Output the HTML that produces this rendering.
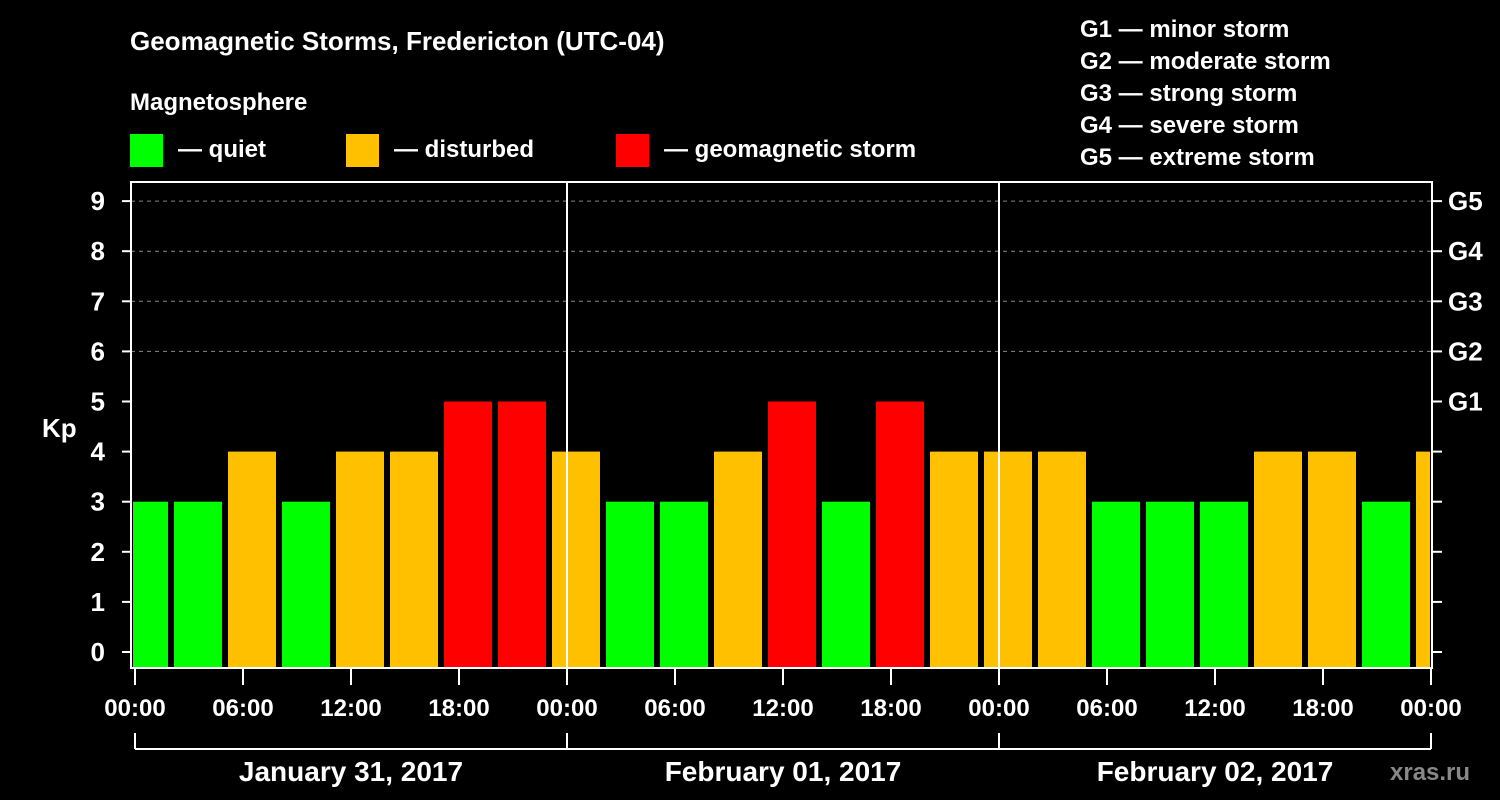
<!DOCTYPE html>
<html><head><meta charset="utf-8"><style>
html,body{margin:0;padding:0;background:#000;}
svg{display:block;font-family:"Liberation Sans",sans-serif;font-weight:bold;}
</style></head><body>
<svg id="c" width="1500" height="800">
<rect width="1500" height="800" fill="#000"/>
<text x="130" y="50" fill="#fff" font-size="26">Geomagnetic Storms, Fredericton (UTC-04)</text>
<text x="130" y="110" fill="#fff" font-size="24">Magnetosphere</text>
<g><rect x="130" y="134" width="33" height="33" fill="#00ff00"/><text x="178" y="157" fill="#fff" font-size="24">— quiet</text></g>
<g><rect x="346" y="134" width="33" height="33" fill="#ffc000"/><text x="394" y="157" fill="#fff" font-size="24">— disturbed</text></g>
<g><rect x="616" y="134" width="33" height="33" fill="#ff0000"/><text x="664" y="157" fill="#fff" font-size="24">— geomagnetic storm</text></g>
<g fill="#fff" font-size="24">
<text x="1080" y="37">G1 — minor storm</text>
<text x="1080" y="69">G2 — moderate storm</text>
<text x="1080" y="101">G3 — strong storm</text>
<text x="1080" y="133">G4 — severe storm</text>
<text x="1080" y="165">G5 — extreme storm</text>
</g>
<text x="42" y="437" fill="#fff" font-size="26">Kp</text>
<text x="1390" y="780" fill="#888" font-size="24">xras.ru</text>
<g id="plot"></g>
</svg>
<script>
const kpValues=[3,3,4,3,4,4,5,5,4,3,3,4,5,3,5,4,4,4,3,3,3,4,4,3,4];
const yTicks=[0,1,2,3,4,5,6,7,8,9];
const gLabels=["G1","G2","G3","G4","G5"];
const xTickLabels=["00:00","06:00","12:00","18:00","00:00","06:00","12:00","18:00","00:00","06:00","12:00","18:00","00:00"];
const dayLabels=["January 31, 2017","February 01, 2017","February 02, 2017"];
const firstIntervalHour=-1;
const NS="http://www.w3.org/2000/svg";
const L=131,R=1432,T=182,B=668;
const x0=135,pxPerHour=18;
const yS=v=>652-v*50.1;
const xS=h=>x0+h*pxPerHour;
const g=document.getElementById('plot');
function mk(tag,attrs,parent){const e=document.createElementNS(NS,tag);for(const k in attrs)e.setAttribute(k,attrs[k]);(parent||g).appendChild(e);return e;}
// grid
for(let v=6;v<=9;v++){const e=mk('line',{x1:L,x2:R,y1:yS(v),y2:yS(v),stroke:'#888','stroke-width':1,'stroke-dasharray':'4,4'});

}
// bars
const cp=mk('clipPath',{id:'cp'});mk('rect',{x:L+2,y:T,width:R-L-4,height:B-T},cp);
kpValues.forEach((v,i)=>{const h=firstIntervalHour+i*3;const xa=xS(h)+3,xb=xS(h+3)-3;
const col=v>=5?'#ff0000':(v>=4?'#ffc000':'#00ff00');
const r=mk('rect',{x:xa,y:yS(v),width:xb-xa,height:B-yS(v),fill:col,'clip-path':'url(#cp)'});

});
// day separators
[24,48].forEach(h=>{const e=mk('line',{x1:xS(h),x2:xS(h),y1:T,y2:B,stroke:'#fff','stroke-width':2});

});
// frame
const f=mk('rect',{x:L,y:T,width:R-L,height:B-T,fill:'none',stroke:'#fff','stroke-width':2});


// y ticks
yTicks.forEach(v=>{mk('line',{x1:122,x2:L,y1:yS(v),y2:yS(v),stroke:'#fff','stroke-width':2});
mk('line',{x1:R,x2:1442,y1:yS(v),y2:yS(v),stroke:'#fff','stroke-width':2});
const t=mk('text',{x:105,y:yS(v)+9,fill:'#fff','font-size':26,'text-anchor':'end'});t.textContent=v;

});
gLabels.forEach((s,i)=>{const t=mk('text',{x:1448,y:yS(5+i)+9,fill:'#fff','font-size':26});t.textContent=s;

});
// x ticks
xTickLabels.forEach((s,i)=>{const x=xS(i*6);
mk('line',{x1:x,x2:x,y1:B,y2:685,stroke:'#fff','stroke-width':2});
const t=mk('text',{x:x,y:716,fill:'#fff','font-size':24,'text-anchor':'middle'});t.textContent=s;

});
// day brackets
mk('line',{x1:xS(0),x2:xS(72),y1:749,y2:749,stroke:'#fff','stroke-width':2});
[0,24,48,72].forEach(h=>mk('line',{x1:xS(h),x2:xS(h),y1:733,y2:749,stroke:'#fff','stroke-width':2}));
dayLabels.forEach((s,i)=>{const t=mk('text',{x:xS(i*24+12),y:781,fill:'#fff','font-size':28,'text-anchor':'middle'});t.textContent=s;

});
</script>
</body></html>
